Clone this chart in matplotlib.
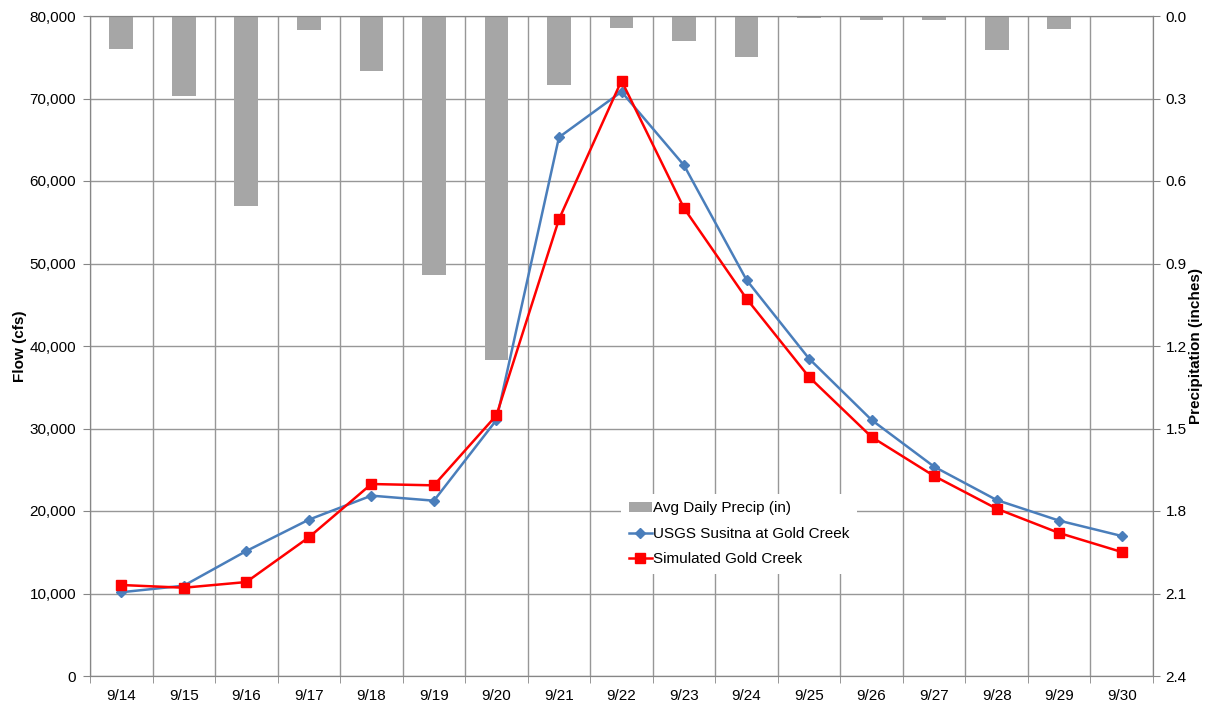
import numpy as np
import matplotlib
matplotlib.use('Agg')
import matplotlib.pyplot as plt

plt.rcParams['font.family'] = ['Liberation Sans', 'DejaVu Sans']

dates = ['9/14', '9/15', '9/16', '9/17', '9/18', '9/19', '9/20', '9/21', '9/22',
         '9/23', '9/24', '9/25', '9/26', '9/27', '9/28', '9/29', '9/30']
precip = [0.12, 0.29, 0.69, 0.05, 0.20, 0.94, 1.25, 0.25, 0.045,
          0.09, 0.15, 0.008, 0.015, 0.016, 0.125, 0.046, 0.005]
usgs = [10150, 10950, 15150, 18950, 21860, 21250, 31030, 65300, 70820,
        61900, 48000, 38460, 31030, 25370, 21330, 18830, 16970]
simulated = [11030, 10700, 11390, 16810, 23270, 23110, 31600, 55360, 72160,
             56700, 45730, 36240, 28970, 24240, 20280, 17330, 15030]

grid_c = '#979797'
spine_c = '#868686'

fig = plt.figure(figsize=(12.1, 7.04), dpi=100)
ax = fig.add_axes([90 / 1210, 1 - 676 / 704, 1063 / 1210, 660 / 704])
ax2 = ax.twinx()
ax.set_zorder(ax2.get_zorder() + 1)
ax.patch.set_visible(False)

x = np.arange(len(dates))

# precipitation bars hanging from the top (right axis, inverted)
ax2.bar(x, precip, width=0.38, color='#A6A6A6', zorder=2, label='Avg Daily Precip (in)')
ax2.set_ylim(2.4, 0)
ax2.set_yticks(np.arange(0, 2.41, 0.3))
ax2.set_yticklabels([f'{v:.1f}' for v in np.arange(0, 2.41, 0.3)])
ax2.yaxis.grid(True, color=grid_c, linewidth=1.0)
ax2.set_axisbelow(True)
ax2.set_ylabel('Precipitation (inches)', fontsize=11, fontweight='bold', labelpad=2)

# flow lines
ax.plot(x, usgs, color='#4A7EBB', linewidth=1.8, marker='D', markersize=5,
        label='USGS Susitna at Gold Creek', zorder=4)
ax.plot(x, simulated, color='#FF0000', linewidth=1.8, marker='s', markersize=6.5,
        label='Simulated Gold Creek', zorder=5)
ax.set_ylim(0, 80000)
ax.set_yticks(np.arange(0, 80001, 10000))
ax.set_yticklabels([f'{v:,}' for v in range(0, 80001, 10000)])
ax.set_ylabel('Flow (cfs)', fontsize=11, fontweight='bold', labelpad=2)

ax.set_xlim(-0.5, len(dates) - 0.5)
ax.set_xticks(x)
ax.set_xticklabels(dates)
ax.set_xticks(np.arange(-0.5, len(dates)), minor=True)
ax.tick_params(axis='x', which='major', length=0, pad=9)
ax.tick_params(axis='x', which='minor', length=5, color=spine_c)
ax.xaxis.grid(True, which='minor', color=grid_c, linewidth=1.0)

for a in (ax, ax2):
    a.tick_params(axis='y', length=5, color=spine_c, labelsize=11, pad=4)
    a.tick_params(axis='x', labelsize=11)
    for s in a.spines.values():
        s.set_color(spine_c)
ax.tick_params(axis='y', pad=5)

h2, l2 = ax2.get_legend_handles_labels()
h1, l1 = ax.get_legend_handles_labels()
leg = ax.legend(h2 + h1, l2 + l1, loc='lower left', bbox_to_anchor=(0.4925, 0.143),
                fontsize=11, frameon=True, fancybox=False, framealpha=1,
                edgecolor='white', handlelength=1.5, handletextpad=0.1,
                labelspacing=0.75, borderpad=0.5)
leg.get_frame().set_linewidth(0)

fig.savefig('out.png', dpi=100)
